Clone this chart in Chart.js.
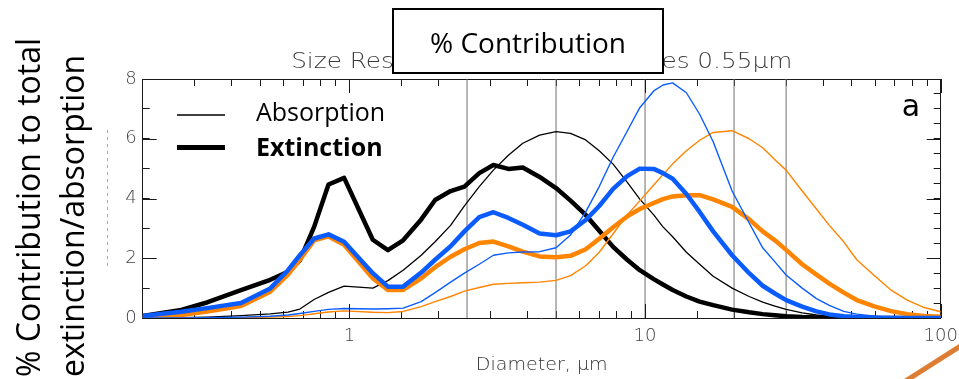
<!DOCTYPE html>
<html>
<head>
<meta charset="utf-8">
<script src="https://cdn.jsdelivr.net/npm/chart.js@4.4.1/dist/chart.umd.min.js"></script>
<style>
  html, body { margin: 0; padding: 0; background: #fff; overflow: hidden; }
</style>
</head>
<body>
<canvas id="chart" width="959" height="379"></canvas>
<script>
const diameters = [0.2, 0.27, 0.33, 0.43, 0.54, 0.62, 0.68, 0.76, 0.85, 0.96,
  1.2, 1.35, 1.52, 1.75, 1.95, 2.2, 2.45, 2.75, 3.07, 3.45,
  3.86, 4.4, 5.0, 5.6, 6.3, 7.0, 7.8, 8.7, 9.6, 10.7,
  11.5, 12.4, 13.8, 15.3, 17.0, 19.7, 22.5, 25, 27.5, 30,
  34, 38, 42, 47, 52, 60, 68, 77, 88, 100];

// black pair
const blackExtinction = [0.07, 0.27, 0.52, 0.93, 1.28, 1.55, 1.93, 3.05, 4.47, 4.69,
  2.62, 2.27, 2.6, 3.3, 3.95, 4.25, 4.4, 4.85, 5.12, 4.99,
  5.04, 4.72, 4.35, 3.93, 3.45, 2.92, 2.38, 1.95, 1.6, 1.3,
  1.12, 0.94, 0.72, 0.55, 0.43, 0.28, 0.19, 0.13, 0.09, 0.06,
  0.03, 0.02, 0.01, 0, 0, 0, 0, 0, 0, 0];
const blackAbsorption = [0, 0.01, 0.03, 0.08, 0.14, 0.2, 0.3, 0.62, 0.86, 1.07,
  1.0, 1.25, 1.6, 2.1, 2.55, 3.1, 3.75, 4.4, 4.95, 5.45,
  5.85, 6.12, 6.24, 6.18, 5.96, 5.6, 5.15, 4.55, 3.98, 3.45,
  3.05, 2.72, 2.2, 1.8, 1.4, 1.0, 0.72, 0.53, 0.4, 0.29,
  0.17, 0.1, 0.06, 0.03, 0.01, 0, 0, 0, 0, 0];

// blue pair
const blueExtinction = [0.07, 0.21, 0.33, 0.5, 0.99, 1.6, 2.1, 2.66, 2.8, 2.55,
  1.5, 1.05, 1.05, 1.52, 1.95, 2.4, 2.9, 3.38, 3.54, 3.35,
  3.12, 2.83, 2.77, 2.9, 3.28, 3.75, 4.32, 4.75, 5.0, 4.99,
  4.85, 4.66, 4.15, 3.55, 2.9, 2.1, 1.5, 1.08, 0.82, 0.6,
  0.38, 0.22, 0.12, 0.06, 0.03, 0.01, 0, 0, 0, 0];
const blueAbsorption = [0, 0, 0.01, 0.03, 0.06, 0.1, 0.15, 0.22, 0.29, 0.32,
  0.3, 0.31, 0.33, 0.55, 0.85, 1.2, 1.5, 1.8, 2.1, 2.18,
  2.21, 2.22, 2.35, 2.78, 3.55, 4.4, 5.38, 6.25, 7.04, 7.6,
  7.8, 7.87, 7.54, 6.82, 5.9, 4.25, 3.18, 2.35, 1.88, 1.44,
  1.0, 0.65, 0.42, 0.22, 0.13, 0.06, 0.02, 0.01, 0, 0];

// orange pair
const orangeExtinction = [0.03, 0.1, 0.22, 0.4, 0.88, 1.45, 1.95, 2.6, 2.73, 2.45,
  1.33, 0.94, 0.94, 1.33, 1.7, 2.05, 2.3, 2.51, 2.56, 2.4,
  2.22, 2.06, 2.03, 2.08, 2.3, 2.65, 3.04, 3.4, 3.65, 3.85,
  3.98, 4.07, 4.11, 4.11, 3.97, 3.72, 3.3, 2.9, 2.6, 2.28,
  1.8, 1.45, 1.15, 0.85, 0.6, 0.38, 0.23, 0.13, 0.07, 0.04];
const orangeAbsorption = [0, 0, 0, 0.01, 0.03, 0.05, 0.08, 0.14, 0.2, 0.24,
  0.19, 0.18, 0.22, 0.38, 0.55, 0.72, 0.9, 1.02, 1.13, 1.16,
  1.18, 1.2, 1.26, 1.42, 1.75, 2.2, 2.82, 3.45, 3.92, 4.45,
  4.8, 5.16, 5.6, 5.95, 6.21, 6.27, 6.0, 5.7, 5.3, 4.95,
  4.25, 3.65, 3.1, 2.55, 1.95, 1.4, 0.93, 0.6, 0.35, 0.21];

// vertical marker lines
const markerDiameters = [2.5, 5, 10, 20, 30];
const xLabelValues = [1, 10, 100];
const yLabelValues = [0, 2, 4, 6, 8];
const yMinorStep = 0.5;

const pts = arr => diameters.map((d, i) => ({x: d, y: arr[i]}));
const BLUE = "#0a5cff", ORANGE = "#ff8400", AXIS = "#1a1a1a";
const HERSHEY = '"DejaVu Sans"';

const curve = (data, color, width, order) => ({
  data: pts(data), borderColor: color, borderWidth: width, order,
  pointRadius: 0, tension: 0, borderJoinStyle: "round", borderCapStyle: "round", fill: false
});

const datasets = [
  curve(blueExtinction, BLUE, 4.5, 1),
  curve(blueAbsorption, BLUE, 1.4, 2),
  curve(orangeExtinction, ORANGE, 4.5, 3),
  curve(orangeAbsorption, ORANGE, 1.4, 4),
  curve(blackExtinction, "#000", 4.5, 5),
  curve(blackAbsorption, "#000", 1.3, 6),
  ...markerDiameters.map(d => ({
    data: [{x: d, y: 0}, {x: d, y: 8}], borderColor: "#6f6f6f", borderWidth: 1,
    pointRadius: 0, order: 10
  }))
];

const isDecade = v => Math.abs(Math.log10(v) - Math.round(Math.log10(v))) < 1e-6;

function seg(ctx, x1, y1, x2, y2){
  ctx.beginPath(); ctx.moveTo(x1, y1); ctx.lineTo(x2, y2); ctx.stroke();
}

/* ---- texts and slide overlays ---- */
const overlayPlugin = {
  id: "overlay",
  afterDraw(chart){
    const ctx = chart.ctx, a = chart.chartArea;
    const sx = chart.scales.x, sy = chart.scales.y;
    const midX = (a.left + a.right) / 2;
    ctx.save();
    ctx.textBaseline = "alphabetic";

    // plot title (partly hidden by the box), stretched a little like the IDL font
    ctx.save();
    ctx.translate(midX, 68);
    ctx.scale(1.124, 1);
    ctx.fillStyle = "#3c3c3c";
    ctx.font = "200 22px " + HERSHEY;
    ctx.textAlign = "center";
    ctx.fillText("Size Resolved Optical Properties 0.55\u03BCm", 0, 0);
    ctx.restore();

    // x axis title
    ctx.save();
    ctx.translate(midX, 370);
    ctx.scale(1.06, 1);
    ctx.font = "200 18px " + HERSHEY;
    ctx.fillStyle = "#333";
    ctx.textAlign = "center";
    ctx.fillText("Diameter, \u03BCm", 0, 0);
    ctx.restore();

    // "% Contribution" box
    ctx.fillStyle = "#fff";
    ctx.fillRect(393, 9, 270, 64);
    ctx.strokeStyle = "#000";
    ctx.lineWidth = 2;
    ctx.strokeRect(393, 9, 270, 64);
    ctx.fillStyle = "#000";
    ctx.textAlign = "center";
    ctx.font = '28px "Open Sans"';
    ctx.fillText("% Contribution", 528, 53);

    // legend
    ctx.strokeStyle = "#000";
    ctx.lineWidth = 1.4;
    seg(ctx, 177, 115, 225, 115);
    ctx.lineWidth = 5;
    seg(ctx, 177, 147.5, 225, 147.5);
    ctx.textAlign = "left";
    ctx.font = '25px "Open Sans"';
    ctx.fillText("Absorption", 256, 121);
    ctx.font = 'bold 25px "Open Sans"';
    ctx.fillText("Extinction", 256, 156);

    // panel letter
    ctx.font = "30px " + HERSHEY;
    ctx.textAlign = "center";
    ctx.fillText("a", 911, 116);

    // y axis label (two rotated lines)
    ctx.save();
    ctx.translate(40, 377);
    ctx.rotate(-Math.PI / 2);
    ctx.textAlign = "left";
    ctx.font = '32px "Open Sans"';
    ctx.fillText("% Contribution to total", 0, 0);
    ctx.fillText("extinction/absorption", 0, 44);
    ctx.restore();

    // faint dashed artefact left of the axis
    ctx.strokeStyle = "#aaa";
    ctx.lineWidth = 1;
    ctx.setLineDash([3, 4]);
    seg(ctx, 107.5, 130, 107.5, 266);
    ctx.setLineDash([]);

    // orange slide stroke in the corner
    ctx.strokeStyle = "#dc7d33";
    ctx.lineWidth = 5;
    seg(ctx, 904, 382, 962, 345);

    // longer inward ticks at the major values
    ctx.strokeStyle = AXIS;
    ctx.lineWidth = 1;
    sx.ticks.filter(t => isDecade(t.value)).forEach(t => {
      const px = Math.round(sx.getPixelForValue(t.value)) + 0.5;
      seg(ctx, px, a.bottom, px, a.bottom - 14);
      seg(ctx, px, a.top, px, a.top + 14);
    });
    yLabelValues.forEach(v => {
      const py = Math.round(sy.getPixelForValue(v)) + 0.5;
      seg(ctx, a.left, py, a.left + 14, py);
      seg(ctx, a.right, py, a.right - 14, py);
    });

    ctx.restore();
  }
};

// IDL-style axes: border + short ticks pointing into the plot, on all four sides
const inwardGrid = {display: true, drawOnChartArea: false, drawTicks: true,
  tickLength: -7, color: AXIS, lineWidth: 1};
const axisBorder = {display: true, color: AXIS, width: 1};
const halfSteps = s => {
  const t = [];
  for (let v = 0; v <= 8; v += yMinorStep) t.push({value: v});
  s.ticks = t;
};
const hersheyTicks = {family: "DejaVu Sans", size: 18, weight: 200};

new Chart(document.getElementById("chart"), {
  type: "line",
  data: {datasets},
  plugins: [overlayPlugin],
  options: {
    responsive: false,
    animation: false,
    layout: {padding: {top: 79, right: 18.3, bottom: 0, left: 0}},
    plugins: {legend: {display: false}, tooltip: {enabled: false}},
    scales: {
      x: {
        type: "logarithmic", position: "bottom", min: 0.2, max: 100,
        grid: inwardGrid, border: axisBorder,
        afterFit: s => { s.height = 61; s.paddingLeft = 0; s.paddingRight = 0; },
        ticks: {
          autoSkip: false, maxRotation: 0, padding: 15,
          color: "#444", font: hersheyTicks,
          callback: v => xLabelValues.includes(v) ? String(v) : ""
        }
      },
      xTop: {
        type: "logarithmic", position: "top", min: 0.2, max: 100,
        grid: inwardGrid, border: axisBorder,
        afterFit: s => { s.height = 0; s.paddingLeft = 0; s.paddingRight = 0; },
        ticks: {display: false, autoSkip: false}
      },
      y: {
        position: "left", min: 0, max: 8,
        grid: inwardGrid, border: axisBorder,
        afterFit: s => { s.width = 142.7; s.paddingTop = 0; s.paddingBottom = 0; },
        afterBuildTicks: halfSteps,
        ticks: {
          padding: 13, color: "#444", font: hersheyTicks,
          callback: v => yLabelValues.includes(v) ? String(v) : ""
        }
      },
      yRight: {
        position: "right", min: 0, max: 8,
        grid: inwardGrid, border: axisBorder,
        afterFit: s => { s.width = 0; s.paddingTop = 0; s.paddingBottom = 0; },
        afterBuildTicks: halfSteps,
        ticks: {display: false}
      }
    }
  }
});
</script>
</body>
</html>
